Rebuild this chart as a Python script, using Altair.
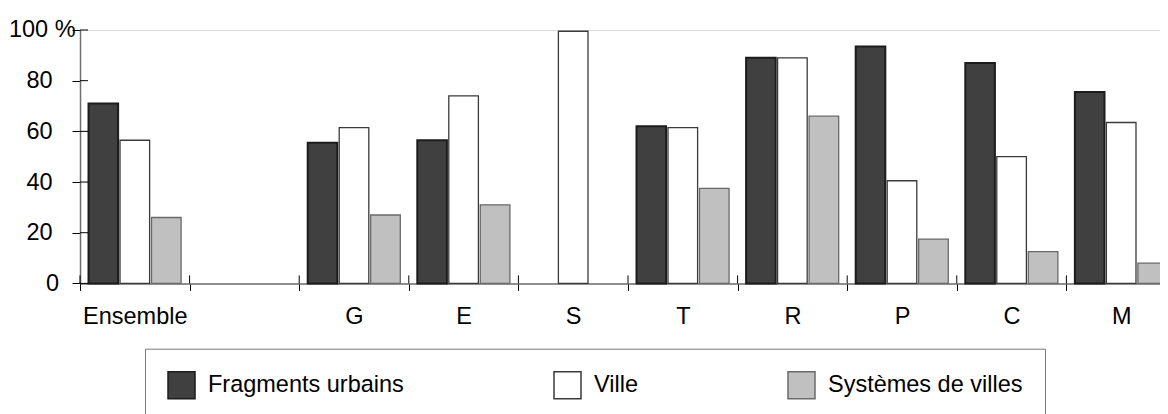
import altair as alt
import pandas as pd

groups = ["Ensemble", " ", "G", "E", "S", "T", "R", "P", "C", "M"]
bar_groups = ["Ensemble", "G", "E", "S", "T", "R", "P", "C", "M"]
series = ["Fragments urbains", "Ville", "Systèmes de villes"]
fragments = [71, 55.5, 56.5, None, 62, 89, 93.5, 87, 75.5]
ville = [56.5, 61.5, 74, 99.5, 61.5, 89, 40.5, 50, 63.5]
systemes = [26, 27, 31, None, 37.5, 66, 17.5, 12.5, 8]
y_ticks = [0, 20, 40, 60, 80, 100]
top_label = ["100 %"]

fills = ["#404040", "#ffffff", "#c0c0c0"]
strokes = ["#1c1c1c", "#3a3a3a", "#6a6a6a"]
FONT = "Liberation Sans"
FS = 23.5
W, H = 1080, 253.4
X_RANGE = [0, 1096]

rows = []
for s, vals in zip(series, [fragments, ville, systemes]):
    for g, v in zip(bar_groups, vals):
        if v is not None:
            rows.append({"group": g, "series": s, "value": v})
df = pd.DataFrame(rows)

x_axis = alt.Axis(
    title=None, tickBand="extent", tickSize=7, tickColor="#000", tickWidth=1,
    domainColor="#6e6e6e", domainWidth=1.5, labelAngle=0,
    labelFont=FONT, labelFontSize=FS, labelColor="#000", labelPadding=14,
    labelBaseline="top",
)
x_scale = alt.Scale(domain=groups, paddingInner=0, paddingOuter=0, range=X_RANGE)
y_axis = alt.Axis(
    title=None, values=y_ticks, tickSize=8, tickColor="#000", tickWidth=1,
    domainColor="#6e6e6e", domainWidth=1.5, grid=False,
    labelFont=FONT, labelFontSize=FS, labelColor="#000", labelPadding=20,
    labelAlign={"condition": {"test": "datum.value == 0", "value": "center"}, "value": "right"},
    labelExpr="datum.value == 100 ? '' : datum.label",
)
y_scale = alt.Scale(domain=[0, 100], nice=False, zero=True)

legend = alt.Legend(
    title=None, orient="none", legendX=65, legendY=318.7, direction="horizontal",
    strokeColor="#777777", padding=22, symbolType="square", symbolSize=729,
    symbolStrokeWidth=1.5, labelFont=FONT, labelFontSize=FS, labelColor="#000",
    labelOffset=12, columnPadding=147, labelLimit=500,
)

bars = alt.Chart(df).mark_bar().encode(
    x=alt.X("group:N", sort=groups, scale=x_scale, axis=x_axis),
    xOffset=alt.XOffset("series:N", sort=series,
                        scale=alt.Scale(domain=series, paddingInner=0.06, paddingOuter=0.27)),
    y=alt.Y("value:Q", scale=y_scale, axis=y_axis),
    fill=alt.Fill("series:N", sort=series, scale=alt.Scale(domain=series, range=fills), legend=legend),
    stroke=alt.Stroke("series:N", sort=series, scale=alt.Scale(domain=series, range=strokes), legend=legend),
    strokeWidth=alt.condition(alt.datum.series == "Fragments urbains", alt.value(2), alt.value(1.3)),
)

xt_df = pd.DataFrame({"group": groups})
xticks_in = alt.Chart(xt_df).mark_rule(color="#000", strokeWidth=1).encode(
    x=alt.X("group:N", sort=groups, bandPosition=0, scale=x_scale, axis=x_axis),
    y=alt.value(H - 8),
    y2=alt.value(H),
)

yt_df = pd.DataFrame({"value": y_ticks})
yticks_in = alt.Chart(yt_df).mark_rule(color="#000", strokeWidth=1).encode(
    y=alt.Y("value:Q", scale=y_scale, axis=y_axis),
    x=alt.value(0),
    x2=alt.value(8),
)

lab_df = pd.DataFrame({"value": [100], "label": top_label})
top_text = alt.Chart(lab_df).mark_text(
    align="right", baseline="middle", font=FONT, fontSize=FS, color="#000"
).encode(y=alt.Y("value:Q", scale=y_scale, axis=y_axis), x=alt.value(-4.5), text="label:N")

chart = alt.layer(bars, xticks_in, yticks_in, top_text).properties(
    width=W, height=H,
    autosize=alt.AutoSizeParams(type="none"),
    padding={"left": 72, "top": 22, "right": 0, "bottom": 140},
).configure_view(stroke=None).configure(font=FONT)

chart.save("out.html", embed_options={"renderer": "svg", "actions": False})
